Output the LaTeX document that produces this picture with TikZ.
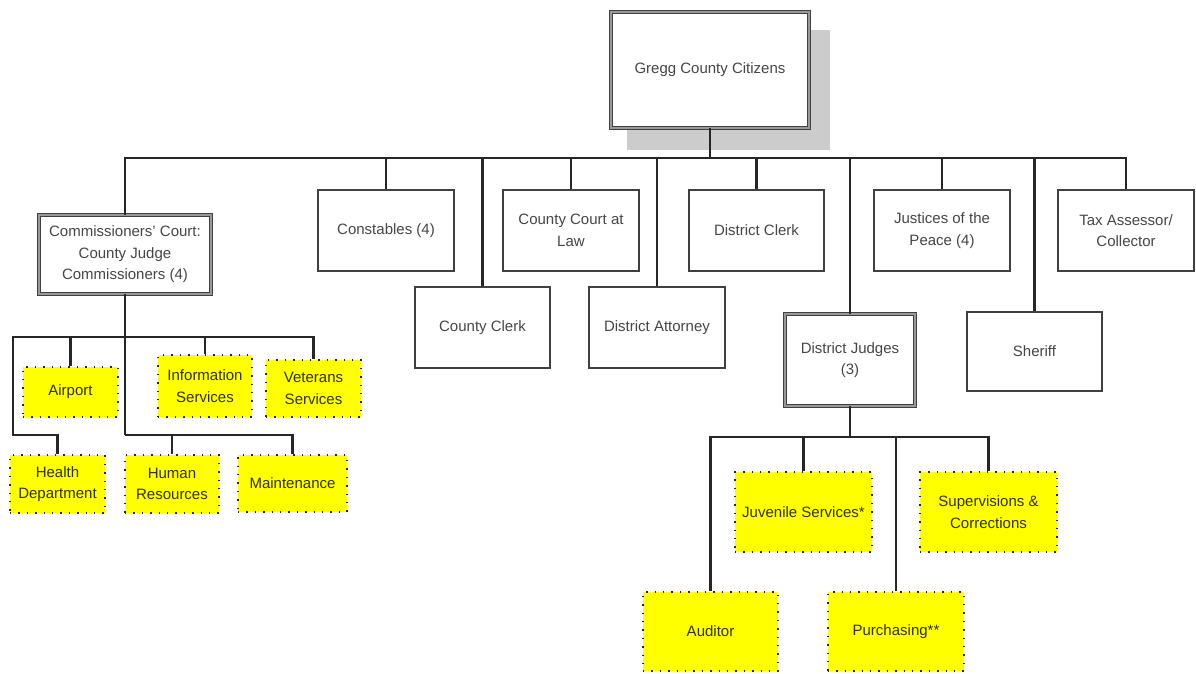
\documentclass[tikz,border=0pt]{standalone}
\usepackage{fontspec}
\setmainfont{Liberation Sans}
\definecolor{ytext}{RGB}{50,50,0}
\definecolor{wtext}{RGB}{70,70,70}
\definecolor{yfill}{RGB}{255,255,0}
\begin{document}
\begin{tikzpicture}[x=1pt,y=-1pt,
  base/.style={rectangle, inner sep=0pt, align=center, font=\fontsize{15}{21.5}\selectfont},
  wbox/.style={base, draw=black!75, line width=1.3pt, text=wtext, fill=white},
  dbox/.style={base, draw=black!75, line width=0.9pt, double=black!40, double distance=2.4pt, text=wtext, fill=white},
  ybox/.style={base, fill=yfill, draw=black!85, line width=1.4pt, dash pattern=on 1.4pt off 7pt, text=ytext},
  conn/.style={draw=black!85, line width=2.2pt},
  sz/.style 2 args={minimum width=#1pt, minimum height=#2pt}
]
\useasboundingbox (0,0) rectangle (1196,673);

% shadow of top box
\fill[black!20] (627,30) rectangle (830,150);

% coordinates of buses
\coordinate (bus) at (710,158);
\coordinate (cb1) at (125,337);
\coordinate (cb2) at (125,435);
\coordinate (hk) at (13,435);
\coordinate (db) at (850,437);

\node[dbox, sz={198}{116}] (top) at (710,70) {Gregg County Citizens};
\node[dbox, sz={172}{79}] (comm) at (125,254.5) {Commissioners' Court:\\County Judge\\Commissioners (4)};
\node[wbox, sz={136}{81}] (const) at (386,230.5) {Constables (4)};
\node[wbox, sz={135}{81}] (cclerk) at (482.5,327.5) {County Clerk};
\node[wbox, sz={136}{81}] (ccal) at (571,230.5) {County Court at\\Law};
\node[wbox, sz={136}{81}] (da) at (657,327.5) {District Attorney};
\node[wbox, sz={135}{81}] (dclerk) at (756.5,230.5) {District Clerk};
\node[wbox, sz={136}{81}] (jp) at (942,230.5) {Justices of the\\Peace (4)};
\node[wbox, sz={136}{81}] (tax) at (1126,230.5) {Tax Assessor/\\Collector};
\node[dbox, sz={130}{92}] (dj) at (850,360) {District Judges\\(3)};
\node[wbox, sz={135}{79}] (sheriff) at (1034.5,351.5) {Sheriff};

\node[ybox, sz={95}{50}] (airport) at (70.5,392) {Airport};
\node[ybox, sz={94}{62}] (info) at (205,386) {Information\\Services};
\node[ybox, sz={95}{57}] (vet) at (313.5,388.5) {Veterans\\Services};
\node[ybox, sz={95}{58}] (health) at (57.5,484) {Health\\Department};
\node[ybox, sz={94}{58}] (hr) at (172,484) {Human\\Resources};
\node[ybox, sz={109}{57}] (maint) at (292.5,483.5) {Maintenance};
\node[ybox, sz={137}{80}] (juv) at (803.5,512) {Juvenile Services*};
\node[ybox, sz={137}{80}] (sup) at (988.5,512) {Supervisions \&\\Corrections};
\node[ybox, sz={135}{79}] (aud) at (710.5,631.5) {Auditor};
\node[ybox, sz={136}{79}] (purch) at (896,631.5) {Purchasing**};

% main tree
\draw[conn] (top.south) -- (bus);
\foreach \n in {comm,const,cclerk,ccal,da,dclerk,jp,tax,dj,sheriff}
  \draw[conn] (\n.north) |- (bus);

% commissioners subtree
\draw[conn] (comm.south) -- (cb2);
\draw[conn] (cb1) -| (hk) -| (health.north);
\foreach \n in {airport,info,vet}
  \draw[conn] (\n.north) |- (cb1);
\foreach \n in {hr,maint}
  \draw[conn] (\n.north) |- (cb2);

% district judges subtree
\draw[conn] (dj.south) -- (db);
\foreach \n in {aud,juv,purch,sup}
  \draw[conn] (\n.north) |- (db);
\end{tikzpicture}
\end{document}
